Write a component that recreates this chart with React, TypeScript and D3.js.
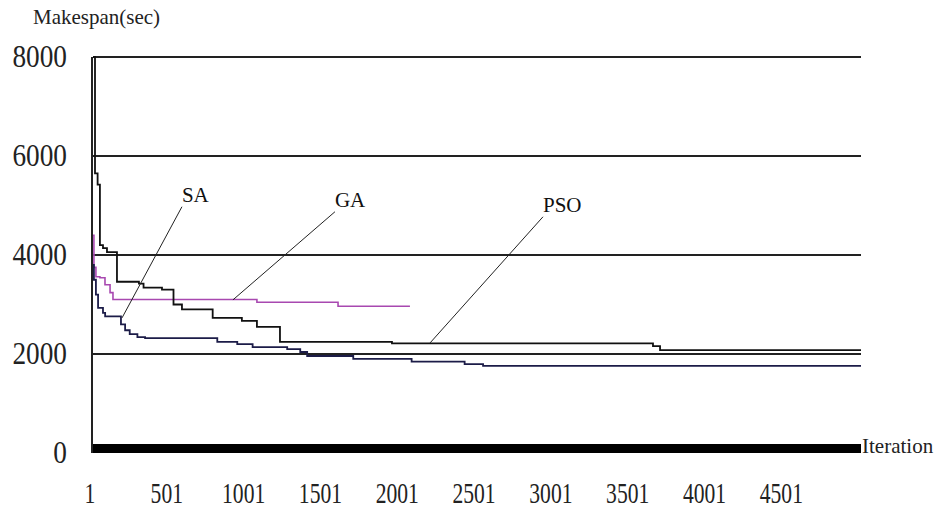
import React from "react";
import * as d3 from "d3";

const yTicks = [0, 2000, 4000, 6000, 8000];
const yTickLabels = ["0", "2000", "4000", "6000", "8000"];
const xTickLabels = ["1", "501", "1001", "1501", "2001", "2501", "3001", "3501", "4001", "4501"];
const xTickValues = [1, 501, 1001, 1501, 2001, 2501, 3001, 3501, 4001, 4501];

const psoIter = [1, 14, 31, 46, 66, 92, 157, 300, 330, 450, 525, 580, 780, 970, 1068, 1218, 1947, 3646, 3692, 5000];
const psoVal = [8000, 5650, 5420, 4200, 4140, 4060, 3460, 3420, 3340, 3300, 3000, 2900, 2730, 2670, 2550, 2245, 2214, 2160, 2080, 2080];

const gaIter = [1, 7, 20, 46, 79, 112, 131, 1068, 1596, 2064];
const gaVal = [4400, 3750, 3560, 3540, 3400, 3240, 3100, 3045, 2965, 2965];

const saIter = [1, 7, 20, 34, 66, 80, 183, 210, 240, 290, 340, 810, 940, 1040, 1265, 1350, 1395, 1695, 2075, 2420, 2540, 5000];
const saVal = [3800, 3500, 3200, 2930, 2830, 2760, 2600, 2480, 2400, 2340, 2320, 2245, 2200, 2140, 2100, 2040, 1960, 1900, 1846, 1794, 1760, 1760];

const annNames = ["SA", "GA", "PSO"];
const annAnchorIter = [190, 912, 2195];
const annAnchorVal = [2730, 3094, 2224];
const annLabelIter = [580, 1576, 2930];
const annLabelVal = [4975, 4874, 4772];

export default function App() {
  const W = 945, H = 513;
  const x = d3.scaleLinear().domain([1, 5000]).range([93, 861]);
  const y = d3.scaleLinear().domain([0, 8000]).range([453, 57]);
  const line = d3
    .line<[number, number]>()
    .x((d) => x(d[0]))
    .y((d) => y(d[1]))
    .curve(d3.curveStepAfter);
  const zip = (a: number[], b: number[]) => a.map((v, i) => [v, b[i]] as [number, number]);
  const font = "'Liberation Serif', 'Times New Roman', serif";
  return (
    <svg width={W} height={H} style={{ position: "absolute", left: 0, top: 0, background: "#fff" }}>
      {/* gridlines */}
      {yTicks.slice(1).map((t) => (
        <line key={t} x1={x(1)} x2={x(5000)} y1={y(t)} y2={y(t)} stroke="#222" strokeWidth={2} />
      ))}
      {/* thick x axis bar */}
      <rect x={x(1)} y={y(0) - 9} width={x(5000) - x(1)} height={9} fill="#000" />
      {/* y axis */}
      <line x1={x(1) - 1} x2={x(1) - 1} y1={y(8000)} y2={y(0)} stroke="#222" strokeWidth={2} />
      {/* series */}
      <path d={line(zip(gaIter, gaVal)) || ""} fill="none" stroke="#a848b0" strokeWidth={1.6} />
      <path d={line(zip(saIter, saVal)) || ""} fill="none" stroke="#1c1c48" strokeWidth={1.8} />
      <path d={line(zip(psoIter, psoVal)) || ""} fill="none" stroke="#111" strokeWidth={1.8} />
      {/* annotations */}
      {annNames.map((n, i) => (
        <g key={n}>
          <line
            x1={x(annAnchorIter[i])}
            y1={y(annAnchorVal[i])}
            x2={x(annLabelIter[i])}
            y2={y(annLabelVal[i])}
            stroke="#222"
            strokeWidth={1}
          />
          <text x={x(annLabelIter[i])} y={y(annLabelVal[i]) - 5} fontFamily={font} fontSize={21} fill="#111">
            {n}
          </text>
        </g>
      ))}
      {/* y tick labels */}
      {yTicks.map((t, i) => (
        <text
          key={t}
          transform={`translate(67,${y(t) + 10}) scale(0.88,1)`}
          textAnchor="end"
          fontFamily={font}
          fontSize={31}
          fill="#222"
        >
          {yTickLabels[i]}
        </text>
      ))}
      {/* x tick labels */}
      {xTickValues.map((t, i) => (
        <text
          key={t}
          transform={`translate(${x(t) - 3},503) scale(0.72,1)`}
          textAnchor="middle"
          fontFamily={font}
          fontSize={30}
          fill="#222"
        >
          {xTickLabels[i]}
        </text>
      ))}
      <text x={33} y={24} fontFamily={font} fontSize={21} fill="#222">
        Makespan(sec)
      </text>
      <text x={862} y={453} fontFamily={font} fontSize={21} fill="#222">
        Iteration
      </text>
    </svg>
  );
}
